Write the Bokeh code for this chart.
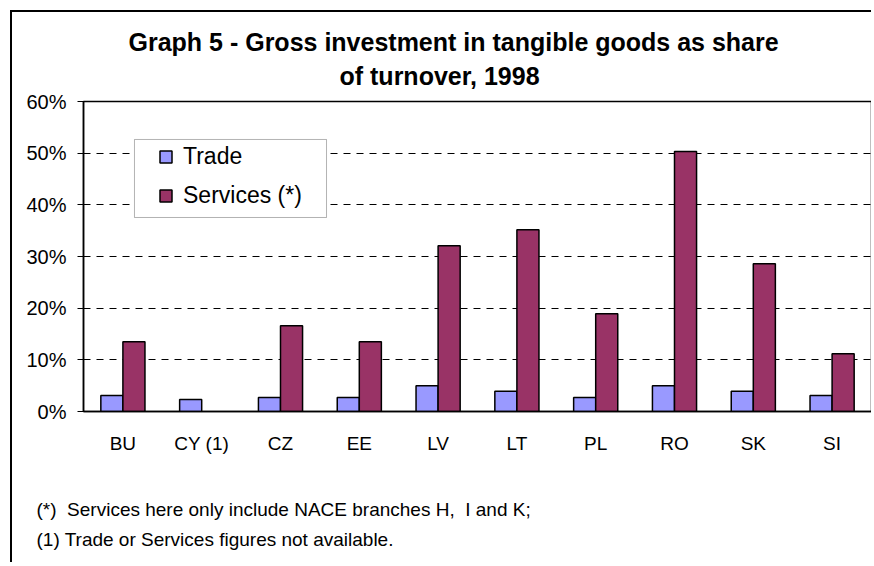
import math
from bokeh.plotting import figure
from bokeh.models import (FactorRange, Range1d, Legend, Title, BoxAnnotation,
                          PrintfTickFormatter, FixedTicker, ColumnDataSource)
from bokeh.transform import dodge
from bokeh.embed import file_html
from bokeh.resources import INLINE

# ---- data ----
countries = ["BU", "CY (1)", "CZ", "EE", "LV", "LT", "PL", "RO", "SK", "SI"]
trade = [3.1, 2.3, 2.7, 2.7, 5.0, 3.9, 2.7, 5.0, 3.9, 3.1]
services = [13.5, math.nan, 16.6, 13.5, 32.1, 35.2, 18.9, 50.3, 28.6, 11.2]
y_ticks = [0, 10, 20, 30, 40, 50, 60]
title_lines = ["Graph 5 - Gross investment in tangible goods as share",
               "of turnover, 1998"]
notes = ["(*)\u00a0 Services here only include NACE branches H,\u00a0 I and K;",
         "(1) Trade or Services figures not available."]

FONT = "Liberation Sans"

source = ColumnDataSource(dict(country=countries, trade=trade, services=services))

p = figure(x_range=FactorRange(*countries), y_range=Range1d(0, 60),
           width=861, height=552, output_backend="svg", toolbar_location=None,
           min_border_left=71, min_border_right=2, min_border_top=89,
           min_border_bottom=153)
p.styles = {"border-left": "2px solid black", "border-top": "2px solid black",
            "margin-left": "10px", "margin-top": "10px"}
p.background_fill_color = "white"
p.border_fill_color = "white"
p.outline_line_color = "black"
p.outline_line_width = 1.5
p.x_range.range_padding = 0
p.title.text = ""

r1 = p.vbar(x=dodge("country", -0.14, range=p.x_range), top="trade", width=0.28,
            source=source, fill_color="#9999FF", line_color="black", line_width=1.5)
r2 = p.vbar(x=dodge("country", 0.14, range=p.x_range), top="services", width=0.28,
            source=source, fill_color="#993366", line_color="black", line_width=1.5)

# axes
p.yaxis.ticker = FixedTicker(ticks=y_ticks)
p.yaxis.formatter = PrintfTickFormatter(format="%d%%")
p.yaxis.major_label_text_font = FONT
p.yaxis.major_label_text_font_size = "20px"
p.yaxis.major_label_text_color = "black"
p.yaxis.major_tick_out = 6
p.yaxis.major_tick_in = 0
p.yaxis.minor_tick_line_color = None
p.yaxis.major_tick_line_color = "black"
p.yaxis.axis_line_color = "black"
p.yaxis.axis_line_width = 1.5
p.yaxis.major_label_standoff = 11

p.xaxis.major_label_text_font = FONT
p.xaxis.major_label_text_font_size = "19px"
p.xaxis.major_label_text_color = "black"
p.xaxis.major_tick_line_color = None
p.xaxis.major_tick_out = 0
p.xaxis.major_tick_in = 0
p.xaxis.axis_line_color = "black"
p.xaxis.axis_line_width = 1.5
p.xaxis.major_label_standoff = 21

p.xgrid.grid_line_color = None
p.ygrid.ticker = FixedTicker(ticks=y_ticks)
p.ygrid.grid_line_color = "black"
p.ygrid.grid_line_width = 1
p.ygrid.grid_line_dash = "7 6"

# legend box + legend
box = BoxAnnotation(left=0.647, right=3.084, bottom=37.55, top=52.65,
                    fill_color="white", fill_alpha=1.0, line_color="black",
                    line_width=1)
p.add_layout(box)
legend = Legend(items=[("Trade", [r1]), ("Services (*)", [r2])],
                location=(75, 202), border_line_color=None,
                background_fill_alpha=0, padding=0, margin=0, spacing=12,
                glyph_width=15, glyph_height=15, label_standoff=10,
                label_text_font=FONT, label_text_font_size="23px",
                label_text_color="black")
p.add_layout(legend)

# title lines (stacked upward from the frame: spacer, line 2, line 1)
p.add_layout(Title(text="\u00a0", text_font_size="8px", standoff=1,
                   text_color="white"), "above")
p.add_layout(Title(text=title_lines[1], align="left", offset=256, standoff=0,
                   text_font=FONT, text_font_size="25px", text_font_style="bold",
                   text_color="black"), "above")
p.add_layout(Title(text=title_lines[0], align="left", offset=45, standoff=8,
                   text_font=FONT, text_font_size="25px", text_font_style="bold",
                   text_color="black"), "above")

# footnotes (stacked downward below the axis: spacer, note 1, note 2)
p.add_layout(Title(text="\u00a0", text_font=FONT, text_font_size="19px",
                   standoff=17, text_color="white"), "below")
p.add_layout(Title(text=notes[0], align="left", offset=-47, standoff=0,
                   text_font=FONT, text_font_size="19px", text_font_style="normal",
                   text_color="black"), "below")
p.add_layout(Title(text=notes[1], align="left", offset=-47, standoff=14,
                   text_font=FONT, text_font_size="19px", text_font_style="normal",
                   text_color="black"), "below")

open("out.html", "w").write(file_html(p, INLINE))
